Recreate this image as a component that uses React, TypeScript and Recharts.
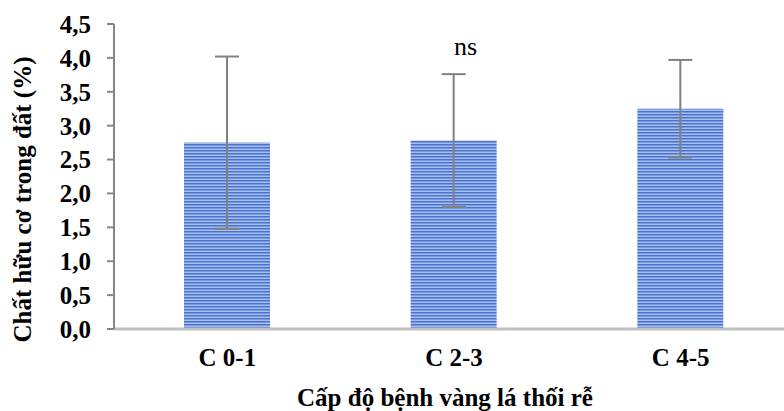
import React from 'react';
import { BarChart, Bar, XAxis, YAxis, ErrorBar, LabelList, Label } from 'recharts';

const categories = ['C 0-1', 'C 2-3', 'C 4-5'];
const organicMatter = [2.75, 2.78, 3.25];
const stdErrors = [1.27, 0.98, 0.72];
const significance = ['', 'ns', ''];
const yTicks = [0, 0.5, 1, 1.5, 2, 2.5, 3, 3.5, 4, 4.5];

const FONT = '"Liberation Serif", "Times New Roman", serif';

const data = categories.map((name, i) => ({
  name,
  value: organicMatter[i],
  err: stdErrors[i],
  sig: significance[i],
}));

const fmt = (v: number) => v.toFixed(1).replace('.', ',');

export default function App() {
  return (
    <div style={{ position: 'absolute', left: 0, top: 0, width: 784, height: 411, overflow: 'hidden', background: '#fff' }}>
      <BarChart
        width={800}
        height={411}
        data={data}
        margin={{ top: 24, right: 6, left: 0, bottom: 0 }}
        barSize={86}
      >
        <defs>
          <pattern id="stripes" width="4" height="3" patternUnits="userSpaceOnUse">
            <rect x="0" y="0" width="4" height="3" fill="#a6bff0" />
            <rect x="0" y="0" width="4" height="1.5" fill="#4a74cb" />
          </pattern>
        </defs>
        <XAxis
          dataKey="name"
          tickLine={false}
          axisLine={{ stroke: '#bfbfbf', strokeWidth: 3 }}
          tick={{ fontFamily: FONT, fontSize: 25, fontWeight: 'bold', fill: '#000' }}
          tickMargin={13}
          height={82}
        >
          <Label
            value="Cấp độ bệnh vàng lá thối rễ"
            position="insideBottom"
            offset={5}
            dx={-9}
            style={{ fontFamily: FONT, fontSize: 25, fontWeight: 'bold', fill: '#000' }}
          />
        </XAxis>
        <YAxis
          domain={[0, 4.5]}
          ticks={yTicks}
          interval={0}
          width={114}
          tickFormatter={fmt}
          tickSize={7}
          tickMargin={16}
          tickLine={{ stroke: '#868686', strokeWidth: 2 }}
          axisLine={{ stroke: '#868686', strokeWidth: 2 }}
          tick={{ fontFamily: FONT, fontSize: 25, fontWeight: 'bold', fill: '#000' }}
        >
          <Label
            value="Chất hữu cơ trong đất (%)"
            angle={-90}
            position="insideLeft"
            offset={22}
            dy={23}
            style={{ textAnchor: 'middle', fontFamily: FONT, fontSize: 25, fontWeight: 'bold', fill: '#000' }}
          />
        </YAxis>
        <Bar dataKey="value" fill="url(#stripes)" isAnimationActive={false}>
          <ErrorBar dataKey="err" width={12} stroke="#808080" strokeWidth={2} direction="y" isAnimationActive={false} />
          <LabelList
            dataKey="sig"
            content={(props: any) => {
              const { x, width, value } = props;
              if (!value) return null;
              return (
                <text
                  x={x + width / 2 + 12}
                  y={55}
                  textAnchor="middle"
                  fontFamily={FONT}
                  fontSize={26}
                  fill="#000"
                >
                  {value}
                </text>
              );
            }}
          />
        </Bar>
      </BarChart>
    </div>
  );
}
